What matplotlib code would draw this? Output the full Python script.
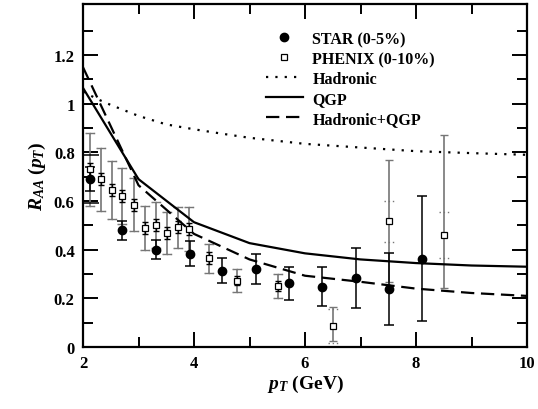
import matplotlib
matplotlib.use("Agg")
import matplotlib.pyplot as plt
import numpy as np

plt.rcParams['font.family'] = 'Liberation Serif'
plt.rcParams['font.weight'] = 'bold'
plt.rcParams['mathtext.fontset'] = 'custom'
plt.rcParams['mathtext.it'] = 'Liberation Serif:italic:bold'
plt.rcParams['mathtext.rm'] = 'Liberation Serif:bold'
plt.rcParams['mathtext.bf'] = 'Liberation Serif:bold'

# STAR (0-5%)
star_pt = [2.13, 2.70, 3.32, 3.92, 4.51, 5.12, 5.72, 6.31, 6.91, 7.51, 8.11]
star_raa = [0.69, 0.48, 0.40, 0.383, 0.314, 0.321, 0.262, 0.248, 0.283, 0.239, 0.362]
star_err = [0.05, 0.04, 0.04, 0.052, 0.052, 0.062, 0.067, 0.08, 0.123, 0.147, 0.257]
star_sys = [0.10, 0, 0, 0, 0, 0, 0, 0, 0, 0, 0]

# PHENIX (0-10%)
phx_pt = [2.12, 2.32, 2.52, 2.71, 2.91, 3.11, 3.32, 3.52, 3.72, 3.91,
          4.27, 4.77, 5.52, 6.51, 7.51, 8.51]
phx_raa = [0.73, 0.69, 0.645, 0.62, 0.585, 0.488, 0.50, 0.468, 0.492, 0.486,
           0.365, 0.273, 0.25, 0.085, 0.517, 0.462]
phx_lo = [0.15, 0.13, 0.12, 0.115, 0.11, 0.09, 0.095, 0.085, 0.083, 0.09,
          0.06, 0.047, 0.05, 0.06, 0.25, 0.22]
phx_hi = [0.15, 0.13, 0.12, 0.115, 0.11, 0.09, 0.095, 0.085, 0.083, 0.09,
          0.06, 0.047, 0.05, 0.08, 0.25, 0.41]
phx_sys = [0.15, 0.13, 0.12, 0.115, 0.11, 0.09, 0.095, 0.085, 0.083, 0.09,
           0.06, 0.047, 0.05, 0.07, 0.085, 0.095]
phx_stat = [0.025, 0.025, 0.025, 0.025, 0.025, 0.025, 0.025, 0.025, 0.025, 0.025,
            0.025, 0.02, 0.02, 0, 0, 0]

# model curves
pt_had = [2.0, 2.25, 2.5, 3.0, 3.5, 4.0, 4.5, 5.0, 6.0, 7.0, 8.0, 9.0, 10.0]
raa_had = [1.05, 1.02, 0.995, 0.95, 0.915, 0.895, 0.877, 0.86, 0.835, 0.82, 0.805, 0.797, 0.79]
pt_qgp = [2.0, 3.0, 4.0, 5.0, 6.0, 7.0, 8.0, 9.0, 10.0]
raa_qgp = [1.065, 0.69, 0.513, 0.427, 0.385, 0.36, 0.345, 0.335, 0.33]
raa_both = [1.15, 0.665, 0.465, 0.36, 0.293, 0.268, 0.24, 0.222, 0.21]

fig = plt.figure(figsize=(5.38, 4.10), dpi=100)
ax = fig.add_axes([83/538, 62/410, 444/538, 343/410])

gray = '#767676'
# PHENIX error bars (grey) with dotted systematic caps
ax.errorbar(phx_pt, phx_raa, yerr=[phx_lo, phx_hi], fmt='none', ecolor=gray,
            elinewidth=1.2, capsize=3, capthick=1.0, zorder=2)
psys = np.array(phx_sys)
for x, y, s in zip(phx_pt, phx_raa, psys):
    for yy in (y - s, y + s):
        ax.plot([x - 0.09, x + 0.09], [yy, yy], color=gray, lw=1.0,
                linestyle=(0, (1, 2)), zorder=2)
st = np.array(phx_stat)
m = st > 0
ax.errorbar(np.array(phx_pt)[m], np.array(phx_raa)[m], yerr=st[m], fmt='none',
            ecolor='black', elinewidth=1.0, capsize=2.5, zorder=3)

# STAR
ax.errorbar(star_pt, star_raa, yerr=star_err, fmt='none', ecolor='black',
            elinewidth=1.1, capsize=3.5, capthick=1.1, zorder=3)
ss = np.array(star_sys)
ms = ss > 0
ax.errorbar(np.array(star_pt)[ms], np.array(star_raa)[ms], yerr=ss[ms], fmt='none',
            ecolor='black', elinewidth=0, capsize=6.5, capthick=1.1, zorder=3)

ax.plot(star_pt, star_raa, 'o', color='black', ms=6, zorder=5, label='STAR (0-5%)')
ax.plot(phx_pt, phx_raa, 's', mfc='white', mec='black', mew=0.9, ms=5, zorder=4,
        label='PHENIX (0-10%)')

ax.plot(pt_had, raa_had, color='black', lw=1.6, linestyle=(0, (1, 3.2)), label='Hadronic')
ax.plot(pt_qgp, raa_qgp, color='black', lw=1.6, label='QGP')
ax.plot(pt_qgp, raa_both, color='black', lw=1.6, linestyle=(0, (6, 3)), label='Hadronic+QGP')

ax.set_xlim(2, 10)
ax.set_ylim(0, 1.41)
ax.set_xticks([2, 4, 6, 8, 10])
ax.set_xticks([3, 5, 7, 9], minor=True)
ax.set_yticks([0, 0.2, 0.4, 0.6, 0.8, 1.0, 1.2])
ax.set_yticklabels(['0', '0.2', '0.4', '0.6', '0.8', '1', '1.2'])
ax.set_yticks(np.arange(0.1, 1.41, 0.2), minor=True)
ax.tick_params(which='both', direction='in', top=True, right=True, width=1.4,
               labelsize=12)
ax.tick_params(which='major', length=11, pad=6)
ax.tick_params(which='minor', length=7)
for s in ax.spines.values():
    s.set_linewidth(1.6)

ax.set_xlabel(r'$p_T$ (GeV)', fontsize=14, fontweight='bold', labelpad=1)
ax.set_ylabel(r'$R_{AA}\ (p_T)$', fontsize=14, fontweight='bold', labelpad=4)

ax.legend(loc='upper left', bbox_to_anchor=(266/538, 1 - 32/410),
          bbox_transform=fig.transFigure, frameon=False, fontsize=11.5,
          handlelength=2.3, handletextpad=0.6, labelspacing=0.25,
          borderpad=0, borderaxespad=0, numpoints=1)

fig.savefig('out.png', dpi=100)
